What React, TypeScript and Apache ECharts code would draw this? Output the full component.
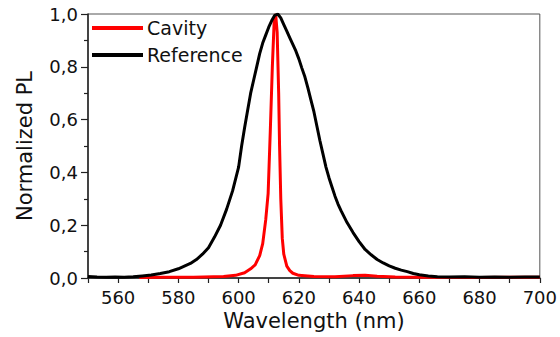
import React, { useEffect, useRef } from "react";
import * as echarts from "echarts";

const cavityX = [567, 575, 585, 595, 599, 602, 604, 605.5, 607, 608, 609, 609.8, 610.5, 611.2, 611.8, 612.3, 612.8, 613.3, 613.6, 614, 614.5, 615, 616, 617, 618, 620, 625, 632, 638, 642, 646, 652, 660, 680, 700];
const cavityY = [0.002, 0.003, 0.003, 0.006, 0.01, 0.02, 0.035, 0.05, 0.085, 0.13, 0.22, 0.32, 0.55, 0.8, 0.97, 1.0, 0.93, 0.7, 0.5, 0.3, 0.15, 0.09, 0.045, 0.028, 0.018, 0.01, 0.006, 0.005, 0.009, 0.01, 0.007, 0.004, 0.003, 0.002, 0.003];

const refX = [550, 553, 556, 559, 562, 565, 568, 571, 574, 577, 580, 582, 584, 586, 588, 590, 592, 594, 596, 598, 600, 601, 602, 603, 604, 605, 606, 607, 608, 609, 610, 611, 612, 613, 614, 615, 616, 617, 618, 619, 620, 621, 622, 623, 624, 625, 626, 627, 628, 629, 630, 631, 632, 633, 634, 636, 638, 640, 642, 644, 646, 648, 650, 652, 654, 656, 658, 660, 663, 666, 670, 675, 680, 685, 690, 695, 700];
const refY = [0.006, 0.004, 0.003, 0.004, 0.003, 0.005, 0.008, 0.011, 0.017, 0.024, 0.035, 0.045, 0.055, 0.07, 0.09, 0.115, 0.155, 0.2, 0.26, 0.33, 0.42, 0.5, 0.57, 0.635, 0.7, 0.75, 0.8, 0.85, 0.89, 0.92, 0.95, 0.975, 0.995, 1.0, 0.985, 0.96, 0.935, 0.91, 0.885, 0.86, 0.83, 0.795, 0.762, 0.72, 0.675, 0.63, 0.575, 0.52, 0.47, 0.42, 0.38, 0.345, 0.31, 0.28, 0.255, 0.21, 0.172, 0.138, 0.108, 0.088, 0.07, 0.057, 0.046, 0.037, 0.03, 0.024, 0.017, 0.012, 0.008, 0.005, 0.004, 0.005, 0.003, 0.004, 0.003, 0.004, 0.004];

const seriesNames = ["Cavity", "Reference"];
const seriesColors = ["#ff0000", "#000000"];
const xTitle = "Wavelength (nm)";
const yTitle = "Normalized PL";

const FONT = "DejaVu Sans";

export default function App() {
  const ref = useRef<HTMLDivElement>(null);
  useEffect(() => {
    if (!ref.current) return;
    const chart = echarts.init(ref.current, undefined, { renderer: "svg" });
    const cavity = cavityX.map((x, i) => [x, cavityY[i]]);
    const reference = refX.map((x, i) => [x, refY[i]]);
    chart.setOption({
      animation: false,
      backgroundColor: "#ffffff",
      grid: {
        left: 88,
        top: 14,
        right: 18,
        bottom: 59,
        show: true,
        borderColor: "#555",
        borderWidth: 1,
      },
      legend: {
        orient: "vertical",
        left: 92,
        top: 17,
        padding: 0,
        icon: "rect",
        itemWidth: 51,
        itemHeight: 4,
        itemGap: 5,
        textStyle: { fontFamily: FONT, fontSize: 19, lineHeight: 22, color: "#111", padding: [0, 0, 0, -1] },
        data: seriesNames,
      },
      xAxis: {
        type: "value",
        min: 550,
        max: 700,
        interval: 10,
        name: xTitle,
        nameLocation: "middle",
        nameGap: 32,
        nameTextStyle: { fontFamily: FONT, fontSize: 21, color: "#111" },
        axisLine: { show: true, lineStyle: { color: "#222", width: 1.5 } },
        axisTick: { show: true, inside: false, length: 5, lineStyle: { color: "#222", width: 1.2 } },
        axisLabel: {
          margin: 10,
          fontFamily: FONT,
          fontSize: 18,
          color: "#111",
          formatter: (v: number) => (v % 20 === 0 ? String(v) : ""),
        },
        splitLine: { show: false },
      },
      yAxis: {
        type: "value",
        min: 0,
        max: 1,
        interval: 0.2,
        name: yTitle,
        nameLocation: "middle",
        nameGap: 53,
        nameTextStyle: { fontFamily: FONT, fontSize: 21, color: "#111" },
        axisLine: { show: true, lineStyle: { color: "#222", width: 1.5 } },
        axisTick: { show: true, inside: false, length: 7, lineStyle: { color: "#222", width: 1.2 } },
        minorTick: { show: true, splitNumber: 2, length: 4, lineStyle: { color: "#222", width: 1.2 } },
        axisLabel: {
          margin: 10,
          fontFamily: FONT,
          fontSize: 18,
          color: "#111",
          formatter: (v: number) => v.toFixed(1).replace(".", ","),
        },
        splitLine: { show: false },
      },
      series: [
        {
          name: seriesNames[0],
          type: "line",
          data: cavity,
          showSymbol: false,
          smooth: false,
          lineStyle: { color: seriesColors[0], width: 3 },
          itemStyle: { color: seriesColors[0] },
        },
        {
          name: seriesNames[1],
          type: "line",
          data: reference,
          showSymbol: false,
          smooth: false,
          lineStyle: { color: seriesColors[1], width: 3 },
          itemStyle: { color: seriesColors[1] },
        },
      ],
    });
    return () => chart.dispose();
  }, []);
  return (
    <div
      ref={ref}
      style={{ position: "fixed", left: 0, top: 0, width: 560, height: 337, background: "#fff" }}
    />
  );
}
